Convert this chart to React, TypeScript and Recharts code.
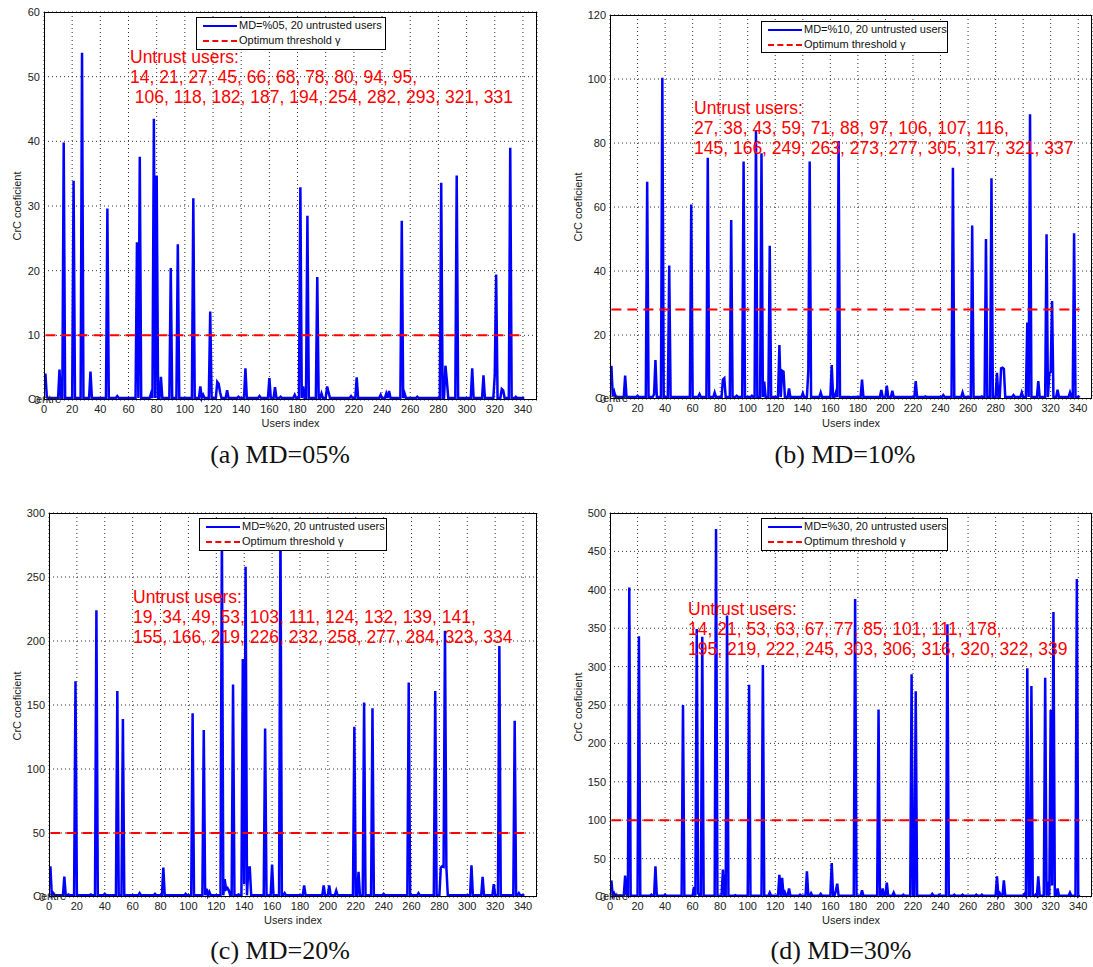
import { CartesianGrid, Line, LineChart, XAxis, YAxis } from "recharts";

// users index 1..341; everything not listed sits on the base level
const userCount = 341;
const xTicks = [0, 20, 40, 60, 80, 100, 120, 140, 160, 180, 200, 220, 240, 260, 280, 300, 320, 340];

const peaksA: [number, number][] = [
  [1, 4.1], [2, 0.5], [11, 4.7], [14, 39.8], [21, 33.9], [27, 53.7], [33, 4.4], [45, 29.6], [52, 0.6],
  [66, 24.4], [68, 37.6], [76, 1], [78, 43.5], [80, 34.7], [83, 3.6], [90, 20.4], [95, 24.1], [106, 31.2],
  [111, 2.1], [113, 0.8], [118, 13.7], [123, 2.8], [124, 2.5], [125, 1.2], [130, 1.5], [138, 0.5], [143, 4.9],
  [153, 0.6], [160, 3.4], [164, 2], [168, 0.5], [178, 0.8], [182, 32.9], [184, 2.1], [187, 28.5], [194, 19],
  [197, 1], [201, 2.1], [202, 1.2], [218, 0.6], [222, 3.5], [239, 0.8], [243, 1], [245, 1.4], [254, 27.7],
  [256, 1], [265, 0.5], [282, 33.6], [285, 5.3], [286, 3], [293, 34.7], [304, 4.9], [312, 3.8], [320, 3.8],
  [321, 19.4], [325, 1.7], [326, 1.5], [331, 39], [335, 0.5],
];
const peaksB: [number, number][] = [
  [1, 10.4], [2, 1], [3, 2.3], [11, 7.3], [20, 1], [27, 67.9], [32, 1.5], [33, 12.2], [38, 100.4], [43, 41.7],
  [52, 0.6], [59, 60.8], [65, 1.5], [71, 75.4], [76, 2], [82, 6.1], [83, 6.5], [88, 55.9], [92, 1], [97, 74.2],
  [103, 1], [106, 84], [110, 76.8], [112, 5.4], [116, 47.9], [123, 16.9], [125, 8.8], [126, 8.5], [130, 3.3],
  [140, 1.8], [144, 9], [145, 74.2], [153, 2], [161, 10.6], [164, 2], [166, 80.6], [175, 0.5], [183, 6.1],
  [197, 2.8], [201, 4.2], [205, 2.6], [222, 5.6], [229, 0.8], [242, 1.2], [249, 72.3], [256, 2], [263, 54.2],
  [270, 0.8], [273, 50], [277, 69], [281, 8.2], [284, 9.6], [285, 9.8], [286, 9.4], [293, 1.2], [299, 2],
  [303, 23.9], [305, 89], [311, 5.6], [317, 51.5], [319, 8], [320, 8.5], [321, 30.6], [325, 2.9], [334, 2],
  [337, 51.8], [341, 1],
];
const peaksC: [number, number][] = [
  [1, 24], [3, 3], [11, 16], [14, 2], [19, 168.5], [30, 2], [34, 224], [40, 2.5], [49, 161], [53, 139],
  [65, 3], [76, 2.5], [82, 23], [98, 2.5], [103, 143.5], [111, 130.4], [113, 6.5], [115, 4], [124, 290],
  [126, 14], [127, 6], [128, 7], [129, 5], [132, 166], [136, 2], [139, 186], [140, 10], [141, 258], [143, 23],
  [144, 23], [155, 131.7], [160, 25.3], [166, 290], [169, 3], [183, 9], [197, 9], [201, 9], [206, 5],
  [219, 133], [222, 19.6], [226, 152], [232, 147.4], [240, 2.5], [258, 167.5], [265, 3], [277, 161],
  [281, 23], [282, 24], [283, 23.5], [284, 208], [285, 23.5], [303, 24.8], [311, 15.7], [319, 10],
  [323, 196], [334, 137.7], [337, 3],
];
const peaksD: [number, number][] = [
  [1, 21.7], [3, 5], [11, 28], [12, 3], [14, 403], [20, 2], [21, 339.6], [30, 3], [33, 40], [40, 3],
  [53, 250], [61, 13], [63, 349], [64, 5], [67, 339], [77, 479], [82, 35.6], [85, 366.5], [91, 2.5],
  [101, 276.5], [111, 302], [116, 5.6], [123, 29], [125, 25], [127, 6], [130, 11], [138, 3], [143, 33.5],
  [146, 5], [153, 4], [161, 44.3], [164, 8], [165, 17.4], [178, 388], [183, 8.7], [195, 244], [198, 11],
  [201, 18.7], [206, 5.6], [213, 3], [219, 290], [222, 268], [234, 4], [239, 3], [245, 355], [250, 3],
  [256, 3], [266, 3], [270, 3], [281, 27], [283, 5], [286, 21.7], [301, 4], [303, 298], [306, 274.8],
  [309, 3], [311, 27], [316, 285.6], [318, 20], [320, 243.5], [321, 15], [322, 371], [325, 11], [334, 5.6],
  [339, 414], [341, 3],
];

const baseA = 0.3;
const baseB = 0.6;
const baseC = 1.3;
const baseD = 1.5;

const thresholdA = 10;
const thresholdB = 28;
const thresholdC = 50;
const thresholdD = 100;

const yTicksA = [0, 10, 20, 30, 40, 50, 60];
const yTicksB = [0, 20, 40, 60, 80, 100, 120];
const yTicksC = [0, 50, 100, 150, 200, 250, 300];
const yTicksD = [0, 50, 100, 150, 200, 250, 300, 350, 400, 450, 500];

const untrustA = ["Untrust users:", "14, 21, 27, 45, 66, 68, 78, 80, 94, 95,", " 106, 118, 182, 187, 194, 254, 282, 293, 321, 331"];
const untrustB = ["Untrust users:", "27, 38, 43, 59, 71, 88, 97, 106, 107, 116,", "145, 166, 249, 263, 273, 277, 305, 317, 321, 337"];
const untrustC = ["Untrust users:", "19, 34, 49, 53, 103, 111, 124, 132, 139, 141,", "155, 166, 219, 226, 232, 258, 277, 284, 323, 334"];
const untrustD = ["Untrust users:", "14, 21, 53, 63, 67, 77, 85, 101, 111, 178,", "195, 219, 222, 245, 303, 306, 316, 320, 322, 339"];

const sans = "'Liberation Sans', Arial, Helvetica, sans-serif";

function buildRows(peaks: [number, number][], base: number, thr: number) {
  const m = new Map(peaks);
  const rows = [];
  for (let i = 1; i <= userCount; i++) {
    rows.push({ user: i, crc: m.get(i) ?? base, thr });
  }
  return rows;
}

const panels = [
  {
    key: "a", rows: buildRows(peaksA, baseA, thresholdA), yTicks: yTicksA, series: "MD=%05, 20 untrusted users",
    text: untrustA, caption: "(a) MD=05%",
    left: 44, top: 12, right: 537, bottom: 400,
    legend: [196, 17, 190, 33], note: [130, 57], ylab: [17, 206], xlabY: 423, centreX: 28, cap: [280, 455],
  },
  {
    key: "b", rows: buildRows(peaksB, baseB, thresholdB), yTicks: yTicksB, series: "MD=%10, 20 untrusted users",
    text: untrustB, caption: "(b) MD=10%",
    left: 610, top: 15, right: 1092, bottom: 399,
    legend: [761, 21, 187, 32], note: [694, 108], ylab: [578, 207], xlabY: 423, centreX: 595, cap: [845, 455],
  },
  {
    key: "c", rows: buildRows(peaksC, baseC, thresholdC), yTicks: yTicksC, series: "MD=%20, 20 untrusted users",
    text: untrustC, caption: "(c) MD=20%",
    left: 49, top: 513, right: 537, bottom: 897,
    legend: [199, 518, 188, 33], note: [133, 597], ylab: [17, 706], xlabY: 920, centreX: 33, cap: [280, 951],
  },
  {
    key: "d", rows: buildRows(peaksD, baseD, thresholdD), yTicks: yTicksD, series: "MD=%30, 20 untrusted users",
    text: untrustD, caption: "(d) MD=30%",
    left: 610, top: 513, right: 1092, bottom: 897,
    legend: [761, 518, 187, 33], note: [688, 609], ylab: [578, 707], xlabY: 920, centreX: 595, cap: [841, 951],
  },
];

function Panel({ p }: any) {
  const w = p.right - p.left;
  const h = p.bottom - p.top;
  const yMax = p.yTicks[p.yTicks.length - 1];
  const tick = { fontSize: 11, fill: "#222", fontFamily: sans };
  const [lx, ly, lw, lh] = p.legend;
  return (
    <>
      <div style={{ position: "absolute", left: p.left - 40, top: p.top - 5 }}>
        <LineChart width={w + 41} height={h + 30} data={p.rows} margin={{ top: 5, right: 1, left: 0, bottom: 0 }}>
          <CartesianGrid stroke="#333" strokeDasharray="1 3" />
          <XAxis
            dataKey="user"
            type="number"
            domain={[0, 350]}
            ticks={xTicks}
            interval={0}
            axisLine={false}
            tickLine={false}
            tickSize={0}
            tickMargin={5}
            height={25}
            tick={tick}
          />
          <YAxis
            type="number"
            domain={[0, yMax]}
            ticks={p.yTicks}
            interval={0}
            axisLine={false}
            tickLine={false}
            tickSize={0}
            tickMargin={4}
            width={40}
            tick={tick}
          />
          <Line type="linear" dataKey="crc" stroke="#0000ff" strokeWidth={2.5} dot={false} isAnimationActive={false} />
          <Line
            type="linear"
            dataKey="thr"
            stroke="#ff0000"
            strokeWidth={2}
            strokeDasharray="10 6"
            dot={false}
            isAnimationActive={false}
          />
        </LineChart>
      </div>

      {/* axes box */}
      <div
        style={{
          position: "absolute", left: p.left, top: p.top, width: w, height: h,
          border: "1px solid #000", boxSizing: "border-box", pointerEvents: "none",
        }}
      />

      {/* legend */}
      <div
        style={{
          position: "absolute", left: lx, top: ly, width: lw, height: lh, background: "#fff",
          border: "1.5px solid #000", boxSizing: "border-box", fontSize: 11, fontFamily: sans, color: "#111",
        }}
      >
        <div style={{ position: "absolute", left: 6, top: 7, width: 34, height: 0, borderTop: "2.5px solid #0000ff" }} />
        <div style={{ position: "absolute", left: 42, top: 0, lineHeight: "15px" }}>{p.series}</div>
        <div style={{ position: "absolute", left: 6, top: 22, width: 34, height: 0, borderTop: "2px dashed #ff0000" }} />
        <div style={{ position: "absolute", left: 42, top: 15, lineHeight: "15px" }}>Optimum threshold γ</div>
      </div>

      {/* untrusted users note */}
      <div
        style={{
          position: "absolute", left: p.note[0], top: p.note[1] - 10, color: "#ff0000",
          fontFamily: sans, fontSize: 17.5, lineHeight: "20px", whiteSpace: "pre",
        }}
      >
        {p.text.map((t: string, i: number) => (
          <div key={i}>{t}</div>
        ))}
      </div>

      <div
        style={{
          position: "absolute", left: p.ylab[0], top: p.ylab[1], fontFamily: sans, fontSize: 11, color: "#222",
          transform: "translate(-50%, -50%) rotate(-90deg)", whiteSpace: "nowrap",
        }}
      >
        CrC coeficient
      </div>
      <div
        style={{
          position: "absolute", left: (p.left + p.right) / 2, top: p.xlabY, fontFamily: sans, fontSize: 11,
          color: "#222", transform: "translate(-50%, -50%)", whiteSpace: "nowrap",
        }}
      >
        Users index
      </div>
      <div
        style={{
          position: "absolute", left: p.centreX, top: p.bottom, fontFamily: sans, fontSize: 11, color: "#222",
          transform: "translateY(-55%)", whiteSpace: "nowrap",
        }}
      >
        Centre
      </div>
      <div
        style={{
          position: "absolute", left: p.cap[0], top: p.cap[1], fontFamily: "'Liberation Serif', 'Times New Roman', serif",
          fontSize: 26, color: "#111", transform: "translate(-50%, -50%)", whiteSpace: "nowrap",
        }}
      >
        {p.caption}
      </div>
    </>
  );
}

export default function App() {
  return (
    <div style={{ position: "absolute", left: 0, top: 0, width: 1093, height: 967, background: "#fff", fontFamily: sans }}>
      {panels.map((p) => (
        <Panel key={p.key} p={p} />
      ))}
    </div>
  );
}
